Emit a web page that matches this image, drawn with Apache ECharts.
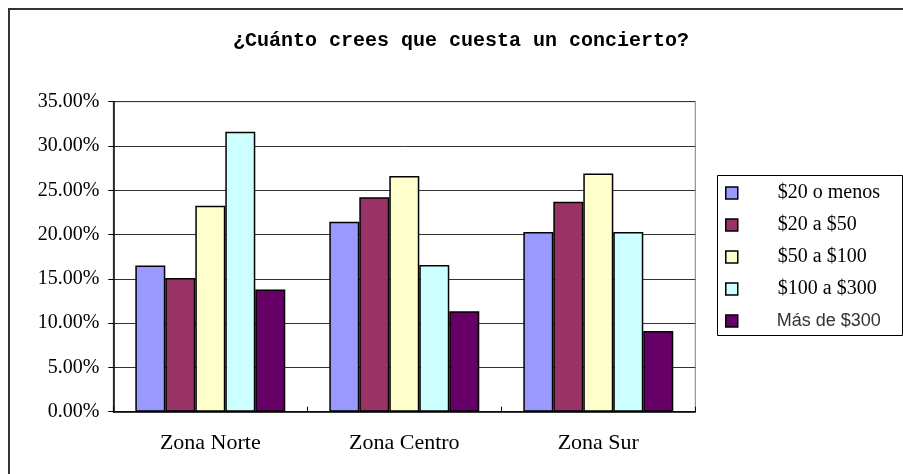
<!DOCTYPE html>
<html>
<head>
<meta charset="utf-8">
<script src="https://cdn.jsdelivr.net/npm/echarts@6/dist/echarts.min.js"></script>
<style>
  html, body { margin: 0; padding: 0; background: #fff; }
  #chart { width: 903px; height: 474px; }
</style>
</head>
<body>
<div id="chart"></div>
<script>
// categories and series (fractions, shown as %)
var categories = ['Zona Norte', 'Zona Centro', 'Zona Sur'];
var seriesNames = ['$20 o menos', '$20 a $50', '$50 a $100', '$100 a $300', 'Más de $300'];
var hasta20 = [0.165, 0.2145, 0.203];
var de20a50 = [0.151, 0.242, 0.237];
var de50a100 = [0.2325, 0.266, 0.269];
var de100a300 = [0.316, 0.1655, 0.203];
var mas300 = [0.138, 0.1135, 0.091];
var yTicks = [0, 0.05, 0.10, 0.15, 0.20, 0.25, 0.30, 0.35];

var seriesData = [hasta20, de20a50, de50a100, de100a300, mas300];
var colors = ['#9999FF', '#993366', '#FFFFCC', '#CCFFFF', '#660066'];

var chart = echarts.init(document.getElementById('chart'));

var series = [];
for (var i = 0; i < seriesNames.length; ++i) {
    series.push({
        name: seriesNames[i],
        type: 'bar',
        data: seriesData[i],
        barGap: '0%',
        barCategoryGap: '22.7%',
        itemStyle: { color: colors[i], borderColor: '#000', borderWidth: 1.5 },
        emphasis: { disabled: true }
    });
}

var serif = '"Liberation Serif", "DejaVu Serif", serif';

chart.setOption({
    animation: false,
    backgroundColor: '#fff',
    color: colors,
    title: {
        text: '¿Cuánto crees que cuesta un concierto?',
        left: 233,
        top: 31,
        padding: 0,
        textStyle: {
            fontFamily: '"Liberation Mono", monospace',
            fontWeight: 'bold',
            fontSize: 20,
            color: '#000'
        }
    },
    grid: {
        left: 113.3,
        right: 207.7,
        top: 101.7,
        bottom: 62.3,
        show: true,
        borderColor: '#808080',
        borderWidth: 1
    },
    legend: {
        orient: 'vertical',
        left: 725,
        top: 183,
        padding: 0,
        itemWidth: 12,
        itemHeight: 12,
        itemGap: 12,
        icon: 'rect',
        itemStyle: { borderColor: '#000', borderWidth: 1.5 },
        textStyle: {
            fontFamily: serif,
            fontSize: 20,
            color: '#000',
            lineHeight: 20,
            padding: [0, 0, 0, 35]
        },
        data: [
            { name: seriesNames[0] },
            { name: seriesNames[1] },
            { name: seriesNames[2] },
            { name: seriesNames[3] },
            { name: seriesNames[4], textStyle: { fontFamily: '"Liberation Sans", sans-serif', fontSize: 18, color: '#333', padding: [0, 0, 0, 34] } }
        ]
    },
    xAxis: {
        type: 'category',
        data: categories,
        axisLine: { lineStyle: { color: '#000', width: 1.5 } },
        axisTick: { show: true, inside: true, length: 5, lineStyle: { color: '#000' } },
        axisLabel: { margin: 21, fontFamily: serif, fontSize: 22, color: '#000' }
    },
    yAxis: {
        type: 'value',
        min: 0,
        max: 0.35,
        interval: 0.05,
        axisLine: { show: true, lineStyle: { color: '#000', width: 1.5 } },
        axisTick: { show: true, length: 5, lineStyle: { color: '#000' } },
        splitLine: { lineStyle: { color: '#333', width: 1 } },
        axisLabel: {
            margin: 14,
            fontFamily: serif,
            fontSize: 20,
            color: '#000',
            formatter: function (v) {
                var k = yTicks.indexOf(Math.round(v * 100) / 100);
                return (yTicks[k] * 100).toFixed(2) + '%';
            }
        }
    },
    graphic: [
        {
            type: 'rect',
            shape: { x: 9, y: 9, width: 1000, height: 1000 },
            style: { fill: null, stroke: '#333', lineWidth: 2 },
            silent: true
        },
        {
            type: 'rect',
            shape: { x: 717.5, y: 175.5, width: 185, height: 160 },
            style: { fill: null, stroke: '#000', lineWidth: 1 },
            silent: true
        }
    ],
    series: series
});
</script>
</body>
</html>
